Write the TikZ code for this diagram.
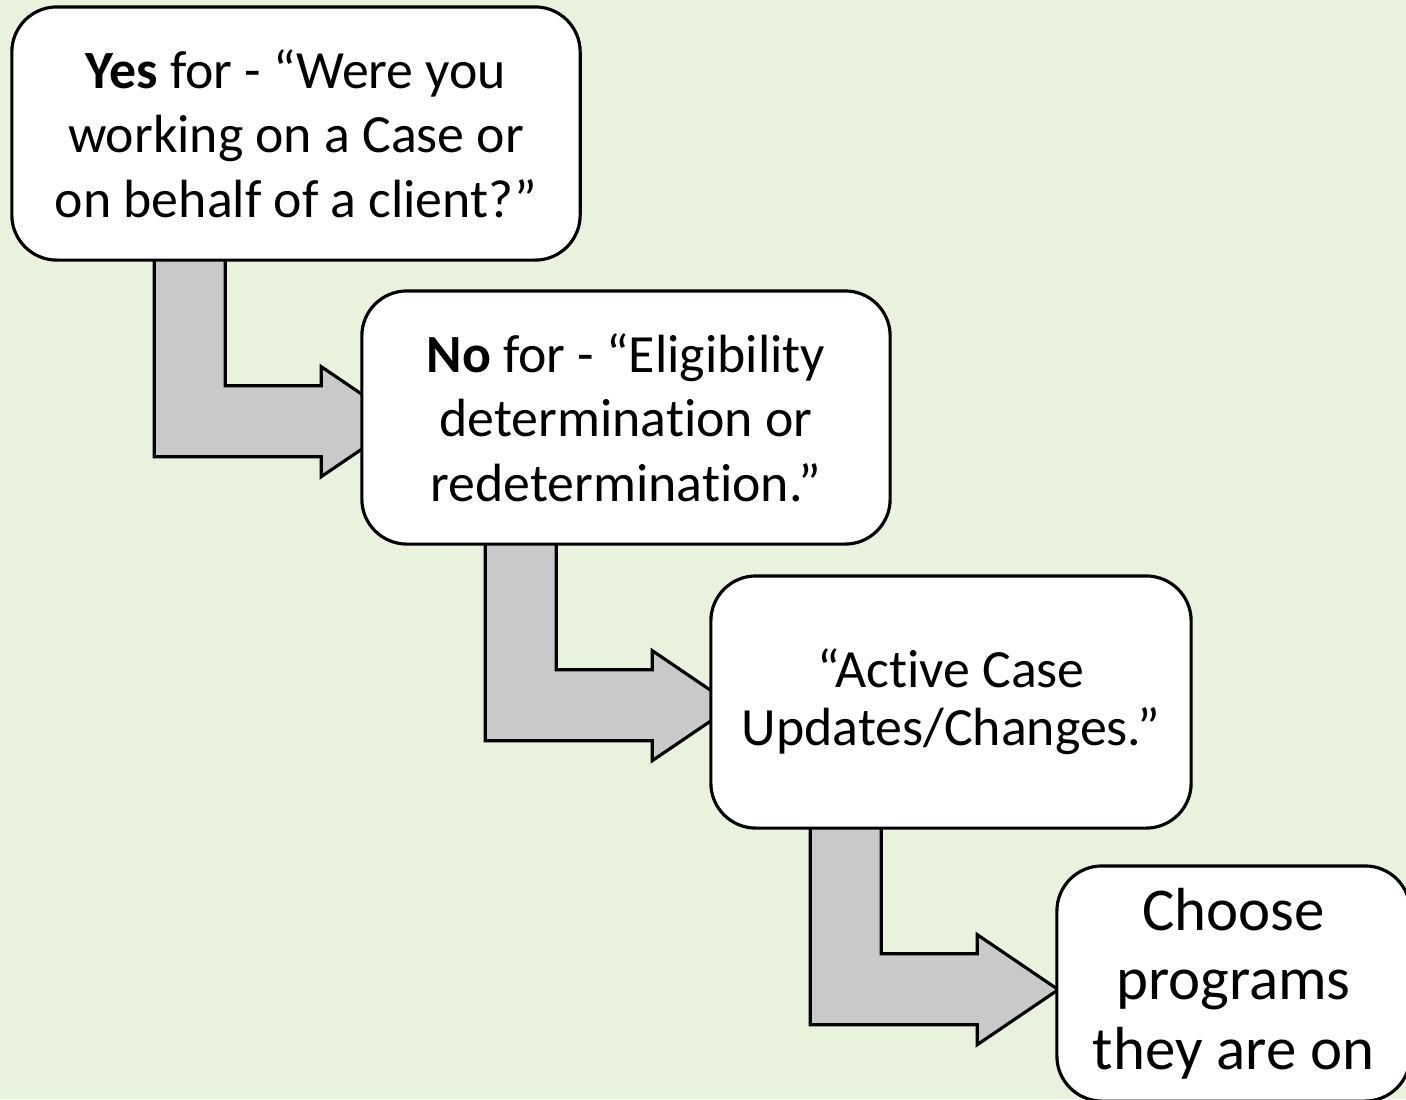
\documentclass[tikz,border=0pt]{standalone}
\usepackage{fontspec}
\setmainfont{Carlito}[Ligatures=NoCommon]
\usetikzlibrary{calc}

\definecolor{sheet-green}{HTML}{E8F2DC}
\definecolor{arrow-gray}{HTML}{C9C9C9}

\pgfdeclarelayer{sheet}
\pgfdeclarelayer{arrows}
\pgfsetlayers{sheet,arrows,main}

\begin{document}
\begin{tikzpicture}[
        x=0.01cm, y=-0.01cm,
        step-box/.style={
            draw,
            fill=white,
            rounded corners=0.45cm,
            line width=0.9pt,
            align=center,
            inner sep=0pt,
            font=\fontsize{15.3}{18.4}\selectfont,
        },
        bent-arrow/.pic={
            \draw[line width=0.9pt, fill=arrow-gray, line join=miter]
                (0, -5) -- (0, 195) -- (167, 195) -- (167, 215) -- (248, 160)
                -- (167, 105) -- (167, 124) -- (71, 124) -- (71, -5) -- cycle;
        },
    ]
    \useasboundingbox (0, 0) rectangle (1406, 1099);
    \begin{pgfonlayer}{sheet}
        \fill[sheet-green] (0, 0) rectangle (1406, 1099);
    \end{pgfonlayer}

    \node[step-box, minimum width=5.68cm, minimum height=2.53cm] (question-yes) at (296, 133.5)
        {\textbf{Yes} for - “Were you\\working on a Case or\\on behalf of a client?”};
    \node[step-box, minimum width=5.28cm, minimum height=2.53cm] (question-no) at (626, 417.5)
        {\textbf{No} for - “Eligibility\\determination or\\redetermination.”};
    \node[step-box, minimum width=4.80cm, minimum height=2.52cm,
          font=\fontsize{15.3}{16.4}\selectfont] (active-case) at (951, 702)
        {“Active Case\\Updates/Changes.”};
    \node[step-box, minimum width=3.53cm, minimum height=2.35cm,
          font=\fontsize{17.3}{19.8}\selectfont] (choose-programs) at (1233.5, 983.5)
        {Choose\\programs\\they are on};

    % arrows sit behind the boxes
    \begin{pgfonlayer}{arrows}
        \pic at ($(question-yes.south west)+(144, 0)$) {bent-arrow};
        \pic at ($(question-no.south west)+(125, 0)$) {bent-arrow};
        \pic at ($(active-case.south west)+(101, 0)$) {bent-arrow};
    \end{pgfonlayer}
\end{tikzpicture}
\end{document}
